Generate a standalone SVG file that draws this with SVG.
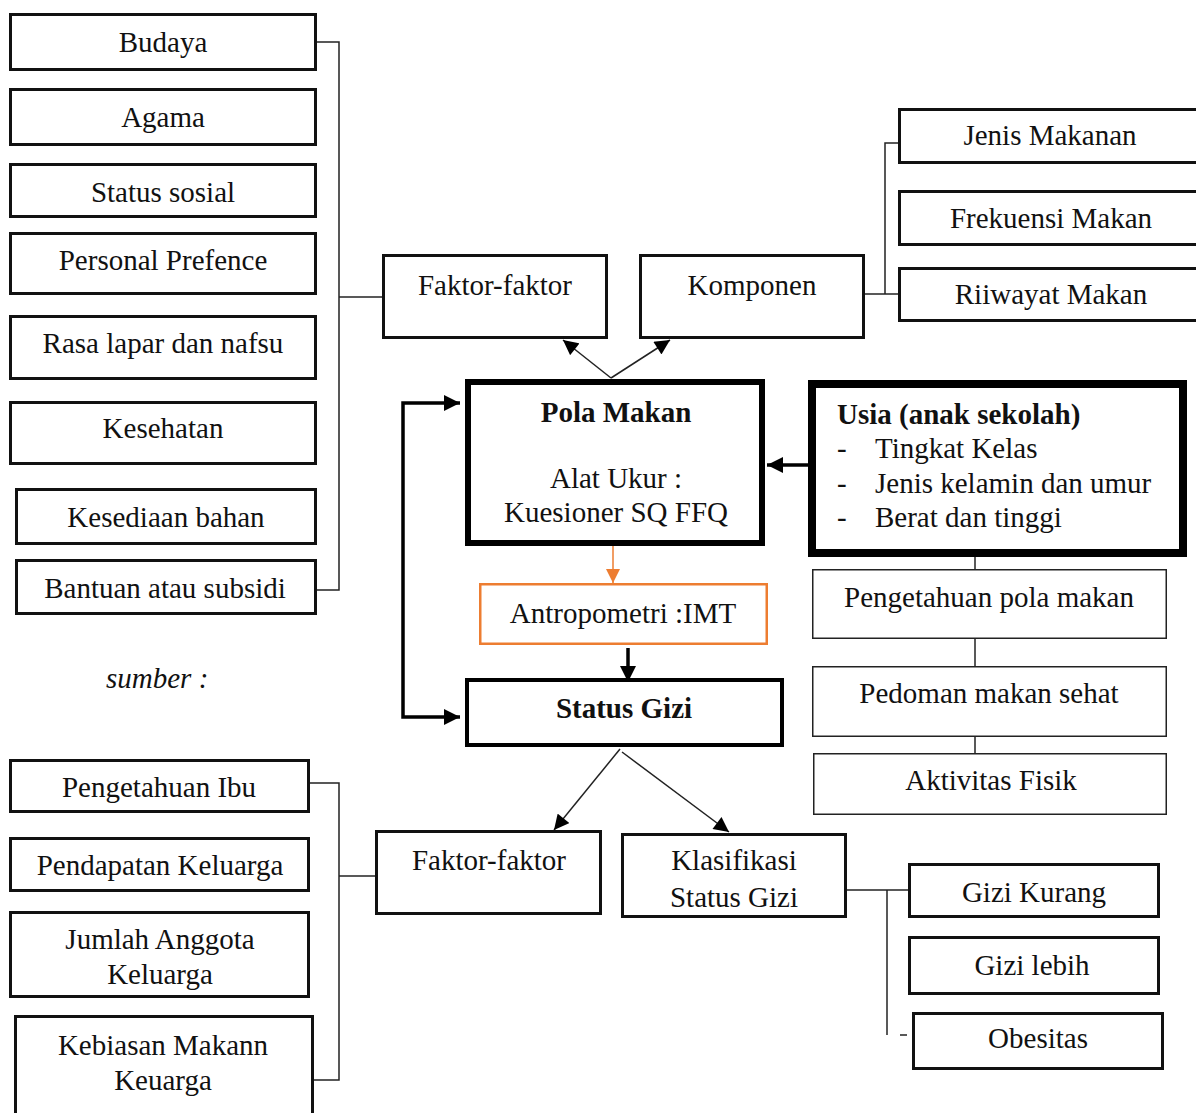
<svg xmlns="http://www.w3.org/2000/svg" width="1196" height="1113" viewBox="0 0 1196 1113">
<style>
  text { font-family: "Liberation Serif", "Times New Roman", serif; font-size: 29px; fill: #111; }
  .c { text-anchor: middle; }
  .b { font-weight: bold; }
  .i { font-style: italic; }
  .box { fill: #fff; stroke: #111; stroke-width: 3; }
  .thin { fill: #fff; stroke: #222; stroke-width: 1.5; }
  .ln { fill: none; stroke: #222; stroke-width: 1.5; }
  .thick { fill: none; stroke: #000; stroke-width: 3.5; }
</style>
<defs>
  <marker id="ah" viewBox="0 0 10 10" refX="10" refY="5" markerUnits="userSpaceOnUse" markerWidth="16" markerHeight="15" orient="auto-start-reverse">
    <path d="M0,0 L10,5 L0,10 z" fill="#000"/>
  </marker>
  <marker id="ahT" viewBox="0 0 10 10" refX="10" refY="5" markerUnits="userSpaceOnUse" markerWidth="16" markerHeight="16" orient="auto-start-reverse">
    <path d="M0,0 L10,5 L0,10 z" fill="#000"/>
  </marker>
  <marker id="ahO" viewBox="0 0 10 10" refX="10" refY="5" markerUnits="userSpaceOnUse" markerWidth="14" markerHeight="14" orient="auto">
    <path d="M0,0 L10,5 L0,10 z" fill="#ED7D31"/>
  </marker>
</defs>

<g id="connectors">
  <polyline class="ln" points="317,42 339,42 339,590 317,590"/>
  <line class="ln" x1="339" y1="297" x2="382" y2="297"/>
  <line class="ln" x1="865" y1="294" x2="898" y2="294"/>
  <polyline class="ln" points="885,294 885,143 903,143"/>
  <line class="ln" x1="611" y1="378" x2="563" y2="340" marker-end="url(#ah)"/>
  <line class="ln" x1="611" y1="378" x2="670" y2="340" marker-end="url(#ah)"/>
  <line class="thick" x1="810" y1="465" x2="767" y2="465" marker-end="url(#ahT)"/>
  <line x1="613" y1="546" x2="613" y2="583" stroke="#ED7D31" stroke-width="1.5" marker-end="url(#ahO)"/>
  <line class="thick" x1="628" y1="648" x2="628" y2="682" marker-end="url(#ahT)"/>
  <polyline class="thick" points="460,403 403,403 403,717 460,717" marker-start="url(#ahT)" marker-end="url(#ahT)"/>
  <line class="ln" x1="975" y1="557" x2="975" y2="569"/>
  <line class="ln" x1="975" y1="639" x2="975" y2="666"/>
  <line class="ln" x1="975" y1="737" x2="975" y2="753"/>
  <line class="ln" x1="620" y1="749" x2="554" y2="830" marker-end="url(#ah)"/>
  <line class="ln" x1="622" y1="752" x2="729" y2="832" marker-end="url(#ah)"/>
  <polyline class="ln" points="310,783 339,783 339,1080 314,1080"/>
  <line class="ln" x1="339" y1="876" x2="375" y2="876"/>
  <line class="ln" x1="847" y1="890" x2="912" y2="890"/>
  <line class="ln" x1="887" y1="890" x2="887" y2="1035"/>
  <line class="ln" x1="900" y1="1035" x2="907" y2="1035"/>
</g>

<g id="budaya"><rect class="box" x="10.5" y="14.5" width="305" height="55"/><text class="c" x="163" y="52">Budaya</text></g>
<g id="agama"><rect class="box" x="10.5" y="89.5" width="305" height="55"/><text class="c" x="163" y="127">Agama</text></g>
<g id="status-sosial"><rect class="box" x="10.5" y="164.5" width="305" height="52"/><text class="c" x="163" y="202">Status sosial</text></g>
<g id="personal"><rect class="box" x="10.5" y="233.5" width="305" height="60"/><text class="c" x="163" y="270">Personal Prefence</text></g>
<g id="rasa"><rect class="box" x="10.5" y="316.5" width="305" height="62"/><text class="c" x="163" y="353">Rasa lapar dan nafsu</text></g>
<g id="kesehatan"><rect class="box" x="10.5" y="402.5" width="305" height="61"/><text class="c" x="163" y="438">Kesehatan</text></g>
<g id="kesediaan"><rect class="box" x="16.5" y="489.5" width="299" height="54"/><text class="c" x="166" y="527">Kesediaan bahan</text></g>
<g id="bantuan"><rect class="box" x="16.5" y="560.5" width="299" height="53"/><text class="c" x="165" y="598">Bantuan atau subsidi</text></g>

<g id="sumber"><text class="i" x="106" y="688">sumber :</text></g>

<g id="faktor-top"><rect class="box" x="383.5" y="255.5" width="223" height="82"/><text class="c" x="495" y="295">Faktor-faktor</text></g>
<g id="komponen"><rect class="box" x="640.5" y="255.5" width="223" height="82"/><text class="c" x="752" y="295">Komponen</text></g>
<g id="jenis-makanan"><rect class="box" x="899.5" y="109.5" width="310" height="53"/><text class="c" x="1050" y="145">Jenis Makanan</text></g>
<g id="frekuensi"><rect class="box" x="899.5" y="191.5" width="310" height="53"/><text class="c" x="1051" y="228">Frekuensi Makan</text></g>
<g id="riwayat"><rect class="box" x="899.5" y="268.5" width="310" height="52"/><text class="c" x="1051" y="304">Riiwayat Makan</text></g>

<g id="pola-makan">
  <rect x="468" y="382" width="294" height="161" fill="#fff" stroke="#000" stroke-width="6"/>
  <text class="c b" x="616" y="422">Pola Makan</text>
  <text class="c" x="616" y="488">Alat Ukur :</text>
  <text class="c" x="616" y="522">Kuesioner SQ FFQ</text>
</g>

<g id="usia">
  <rect x="812" y="384" width="371" height="169" fill="#fff" stroke="#000" stroke-width="8"/>
  <text class="b" x="837" y="424">Usia (anak sekolah)</text>
  <text x="837" y="458">-</text><text x="875" y="458">Tingkat Kelas</text>
  <text x="837" y="493">-</text><text x="875" y="493">Jenis kelamin dan umur</text>
  <text x="837" y="527">-</text><text x="875" y="527">Berat dan tinggi</text>
</g>

<g id="antropometri">
  <rect x="480.25" y="584.25" width="286.5" height="59.5" fill="#fff" stroke="#ED7D31" stroke-width="2.5"/>
  <text class="c" x="623" y="623">Antropometri :IMT</text>
</g>

<g id="status-gizi">
  <rect x="467" y="680" width="315" height="65" fill="#fff" stroke="#000" stroke-width="4"/>
  <text class="c b" x="624" y="718">Status Gizi</text>
</g>

<g id="pengetahuan-pola"><rect class="thin" x="812.75" y="569.75" width="353.5" height="68.5"/><text class="c" x="989" y="607">Pengetahuan pola makan</text></g>
<g id="pedoman"><rect class="thin" x="812.75" y="666.75" width="353.5" height="69.5"/><text class="c" x="989" y="703">Pedoman makan sehat</text></g>
<g id="aktivitas"><rect class="thin" x="813.75" y="753.75" width="352.5" height="60.5"/><text class="c" x="991" y="790">Aktivitas Fisik</text></g>

<g id="faktor-bottom"><rect class="box" x="376.5" y="831.5" width="224" height="82"/><text class="c" x="489" y="870">Faktor-faktor</text></g>
<g id="klasifikasi"><rect class="box" x="622.5" y="834.5" width="223" height="82"/><text class="c" x="734" y="870">Klasifikasi</text><text class="c" x="734" y="907">Status Gizi</text></g>

<g id="pengetahuan-ibu"><rect class="box" x="10.5" y="760.5" width="298" height="51"/><text class="c" x="159" y="797">Pengetahuan Ibu</text></g>
<g id="pendapatan"><rect class="box" x="10.5" y="838.5" width="298" height="52"/><text class="c" x="160" y="875">Pendapatan Keluarga</text></g>
<g id="jumlah"><rect class="box" x="10.5" y="912.5" width="298" height="84"/><text class="c" x="160" y="949">Jumlah Anggota</text><text class="c" x="160" y="984">Keluarga</text></g>
<g id="kebiasan"><rect class="box" x="15.5" y="1016.5" width="297" height="110"/><text class="c" x="163" y="1055">Kebiasan Makann</text><text class="c" x="163" y="1090">Keuarga</text></g>

<g id="gizi-kurang"><rect class="box" x="909.5" y="864.5" width="249" height="52"/><text class="c" x="1034" y="902">Gizi Kurang</text></g>
<g id="gizi-lebih"><rect class="box" x="909.5" y="937.5" width="249" height="56"/><text class="c" x="1032" y="975">Gizi lebih</text></g>
<g id="obesitas"><rect class="box" x="913.5" y="1013.5" width="249" height="55"/><text class="c" x="1038" y="1048">Obesitas</text></g>
</svg>
